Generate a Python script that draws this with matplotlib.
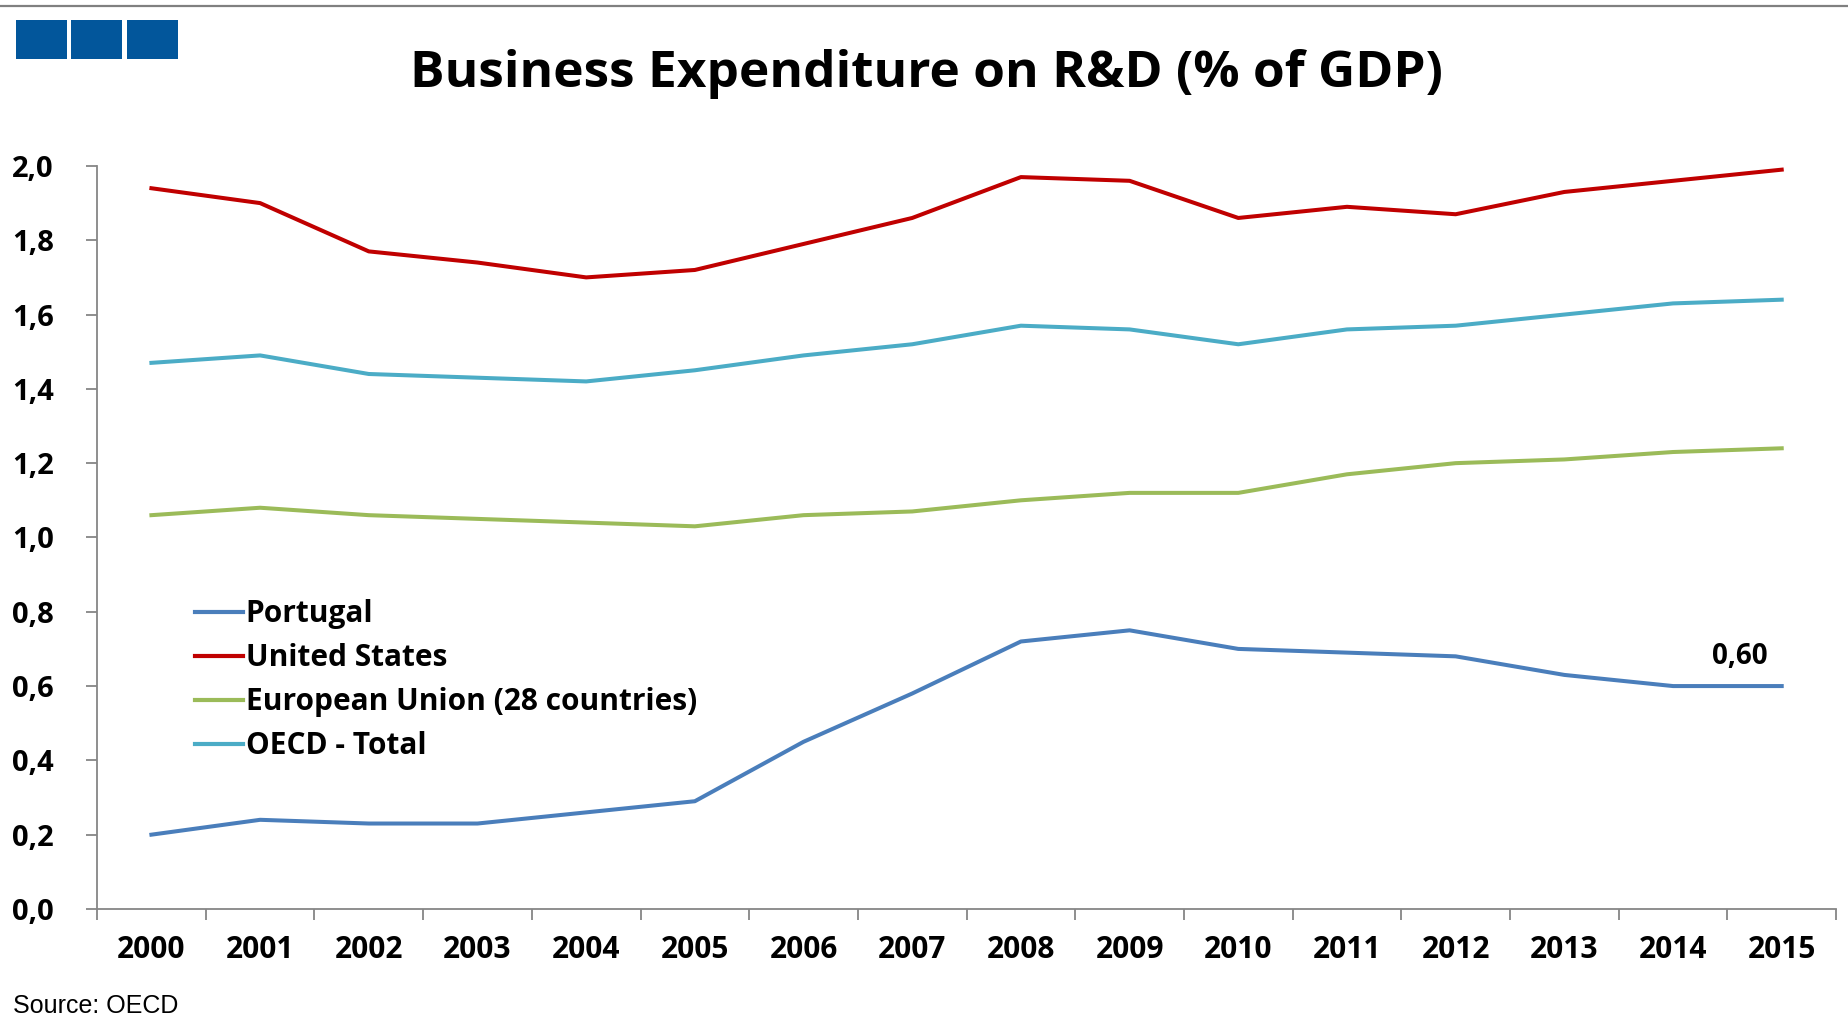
import matplotlib
matplotlib.use("Agg")
import matplotlib.pyplot as plt
from matplotlib.ticker import FixedLocator, FuncFormatter
from matplotlib.patches import Rectangle
from matplotlib.lines import Line2D

plt.rcParams['font.family'] = ['Open Sans', 'DejaVu Sans']

# Business expenditure on R&D, % of GDP
years = [str(y) for y in range(2000, 2016)]
portugal = [0.20, 0.24, 0.23, 0.23, 0.26, 0.29, 0.45, 0.58, 0.72, 0.75, 0.70, 0.69, 0.68, 0.63, 0.60, 0.60]
united_states = [1.94, 1.90, 1.77, 1.74, 1.70, 1.72, 1.79, 1.86, 1.97, 1.96, 1.86, 1.89, 1.87, 1.93, 1.96, 1.99]
eu28 = [1.06, 1.08, 1.06, 1.05, 1.04, 1.03, 1.06, 1.07, 1.10, 1.12, 1.12, 1.17, 1.20, 1.21, 1.23, 1.24]
oecd = [1.47, 1.49, 1.44, 1.43, 1.42, 1.45, 1.49, 1.52, 1.57, 1.56, 1.52, 1.56, 1.57, 1.60, 1.63, 1.64]

series_names = ['Portugal', 'United States', 'European Union (28 countries)', 'OECD - Total']
series_values = [portugal, united_states, eu28, oecd]
series_colors = ['#4a7ebb', '#c00000', '#9bbb59', '#4bacc6']
y_ticks = [0.0, 0.2, 0.4, 0.6, 0.8, 1.0, 1.2, 1.4, 1.6, 1.8, 2.0]

fig = plt.figure(figsize=(18.49, 10.25), dpi=100)
ax = fig.add_axes([0.0525, 0.1132, 0.9405, 0.7249])

x = list(range(len(years)))
for name, vals, col in zip(series_names, series_values, series_colors):
    ax.plot(x, vals, color=col, lw=2.9, solid_joinstyle='round', label=name)

# data label on the last Portugal point
ax.annotate(f"{portugal[-1]:.2f}".replace('.', ','), (x[-1], portugal[-1]),
            xytext=(-30, 21), textcoords='offset points', ha='center', va='center',
            fontsize=20, fontweight='bold')

ax.set_xlim(-0.5, len(years) - 0.5)
ax.set_ylim(0, 2.0)

ax.set_xticks(x)
ax.set_xticklabels(years, fontsize=21.5, fontweight='bold')
ax.xaxis.set_minor_locator(FixedLocator([i - 0.5 for i in range(len(years) + 1)]))
ax.tick_params(axis='x', which='major', length=0, pad=19)
ax.tick_params(axis='x', which='minor', length=8, width=1.3, color='#868686', direction='out')

ax.yaxis.set_major_locator(FixedLocator(y_ticks))
ax.yaxis.set_major_formatter(FuncFormatter(lambda v, p: f"{v:.1f}".replace('.', ',')))
ax.tick_params(axis='y', length=8, width=1.3, color='#868686', direction='out', pad=23,
               labelsize=21)
for lbl in ax.get_yticklabels():
    lbl.set_fontweight('bold')

for side in ['top', 'right']:
    ax.spines[side].set_visible(False)
for side in ['left', 'bottom']:
    ax.spines[side].set_color('#868686')
    ax.spines[side].set_linewidth(1.3)

# legend
handles = [Line2D([], [], color=c, lw=3) for c in series_colors]
leg = ax.legend(handles, series_names, loc='upper left', bbox_to_anchor=(0.0495, 0.433),
                frameon=False, fontsize=21.5, handlelength=1.6, handletextpad=0.1,
                labelspacing=0.47, borderaxespad=0)
for t in leg.get_texts():
    t.set_fontweight('bold')

# title, header rule and logo squares
fig.text(0.501, 0.928, 'Business Expenditure on R&D (% of GDP)', ha='center', va='center',
         fontsize=37, fontweight='bold')
fig.add_artist(Line2D([0, 1], [1 - 6 / 1025, 1 - 6 / 1025], color='#808080', lw=1.6,
                      transform=fig.transFigure))
for x0 in [16, 71, 127]:
    fig.add_artist(Rectangle((x0 / 1849, 1 - 59 / 1025), 51 / 1849, 39 / 1025,
                             transform=fig.transFigure, facecolor='#02569b',
                             edgecolor='none'))

fig.text(13 / 1849, 1 - 1006 / 1025, 'Source: OECD', ha='left', va='center',
         fontsize=18, family='Liberation Sans')

fig.savefig('out.png', dpi=100, facecolor='white')
